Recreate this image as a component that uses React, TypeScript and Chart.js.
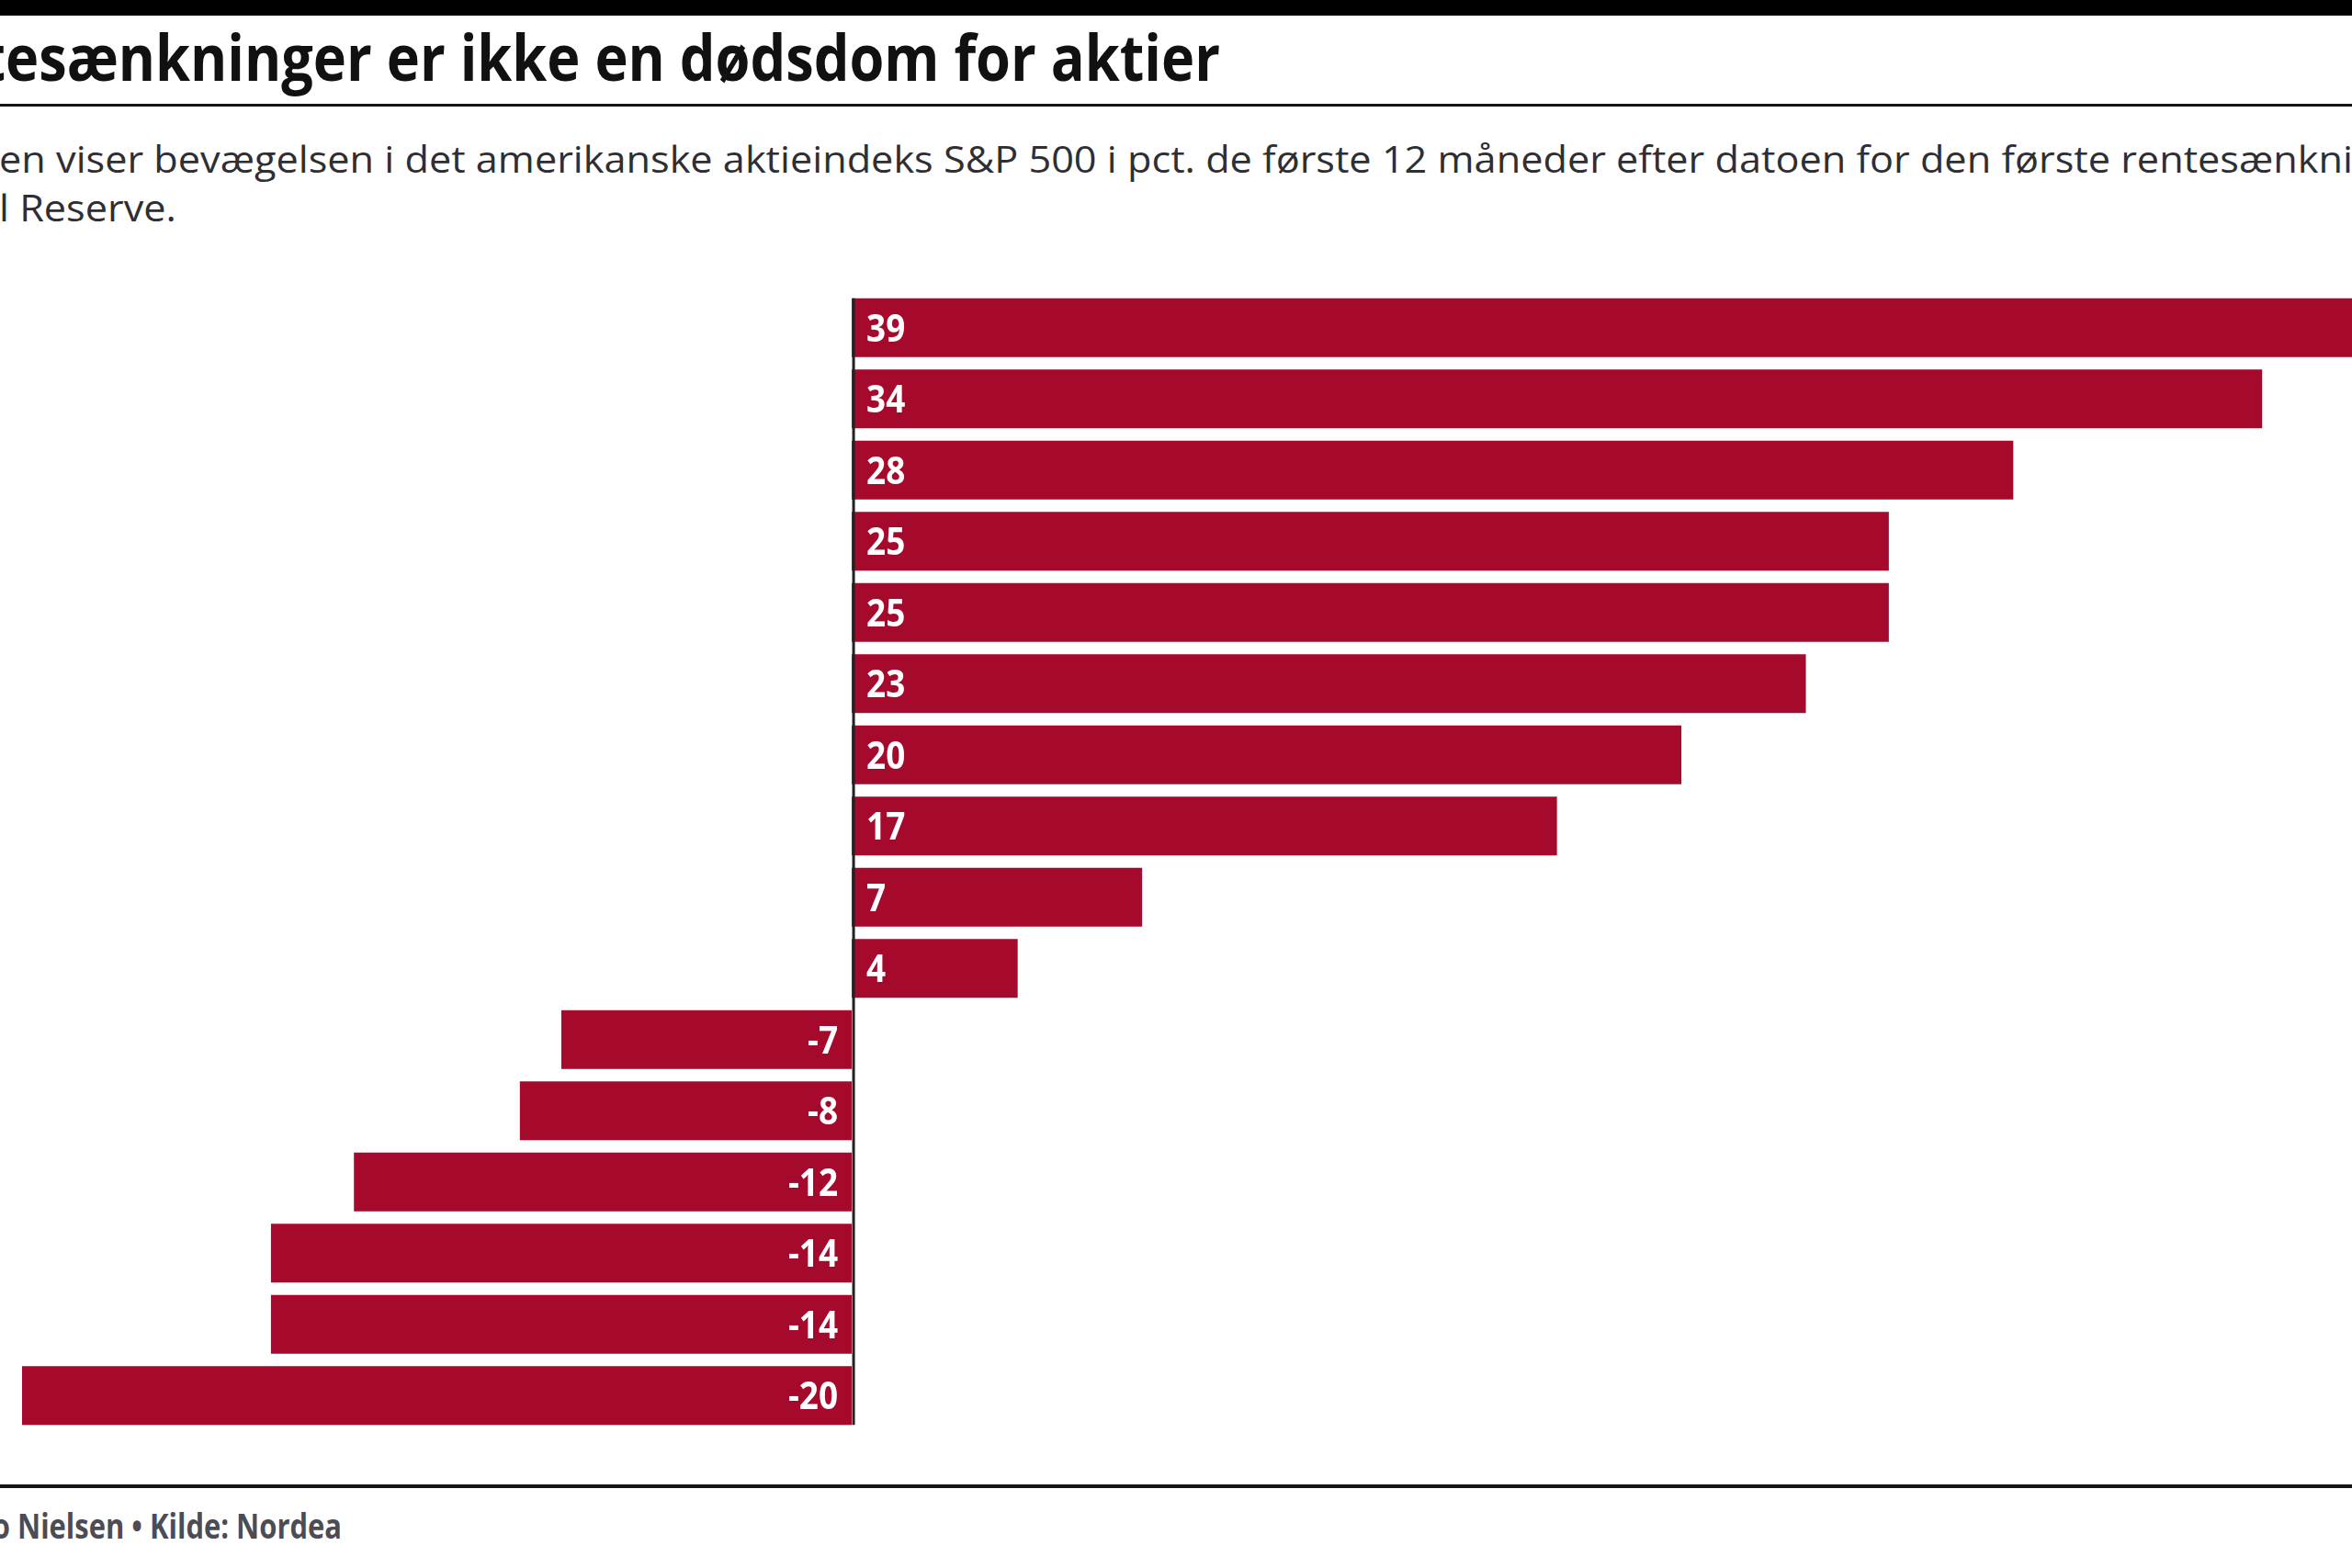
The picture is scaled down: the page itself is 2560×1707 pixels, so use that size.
import React, { useEffect, useRef, useState } from 'react';
import { Chart, registerables } from 'chart.js';

Chart.register(...registerables);

// ---------- data ----------
const categories = ['1', '2', '3', '4', '5', '6', '7', '8', '9', '10', '11', '12', '13', '14', '15', '16'];
const values = [39, 34, 28, 25, 25, 23, 20, 17, 7, 4, -7, -8, -12, -14, -14, -20];
const axisMin = -20;
const axisMax = 39;

// ---------- texts ----------
const TITLE_PREFIX = 'Rent';
const TITLE_TEXT = 'esænkninger er ikke en dødsdom for aktier';
const SUB1_PREFIX = 'Grafikk';
const SUB1_TEXT =
  'en viser bevægelsen i det amerikanske aktieindeks S&P 500 i pct. de første 12 måneder efter datoen for den første rentesænkning fra den amerikanske centralbank,';
const SUB1_FIT = 'en viser bevægelsen i det amerikanske aktieindeks S&P 500 i pct. de første 12 måneder efter datoen for den første rentesænkn';
const SUB2_PREFIX = 'Federa';
const SUB2_TEXT = 'l Reserve.';
const FOOT_PREFIX = 'Grafik: Bo ';
const FOOT_TEXT = 'Nielsen • Kilde: Nordea';

// ---------- style ----------
const BAR_COLOR = '#a50a2c';
const FONT = "'Open Sans', 'Noto Sans', sans-serif";

function measure(text: string, font: string): number {
  const c = document.createElement('canvas');
  const ctx = c.getContext('2d');
  if (!ctx) return 1;
  ctx.font = font;
  return ctx.measureText(text).width || 1;
}

type LineProps = {
  top: number;
  left: number;
  size: number;
  weight: number;
  color: string;
  scale: number;
  prefix: string;
  text: string;
};

function Line({ top, left, size, weight, color, scale, prefix, text }: LineProps) {
  return (
    <div
      style={{
        position: 'absolute',
        top,
        left,
        whiteSpace: 'pre',
        fontFamily: FONT,
        fontWeight: weight,
        fontSize: size,
        lineHeight: `${size}px`,
        color,
        transform: `scaleX(${scale})`,
        transformOrigin: '0 0',
      }}
    >
      <span style={{ position: 'absolute', right: '100%', top: 0 }}>{prefix}</span>
      {text}
    </div>
  );
}

const zeroLinePlugin = {
  id: 'zeroLine',
  afterDatasetsDraw(chart: any) {
    const meta = chart.getDatasetMeta(0);
    const els = meta.data;
    if (!els.length) return;
    const f = els[0].getProps(['y', 'height'], true);
    const l = els[els.length - 1].getProps(['y', 'height'], true);
    const top = f.y - f.height / 2;
    const bottom = l.y + l.height / 2;
    const x = chart.scales.x.getPixelForValue(0) + 2;
    const ctx = chart.ctx;
    ctx.save();
    ctx.strokeStyle = '#222222';
    ctx.lineWidth = 3;
    ctx.beginPath();
    ctx.moveTo(x, top);
    ctx.lineTo(x, bottom);
    ctx.stroke();
    ctx.restore();
  },
};

const labelPlugin = {
  id: 'valueLabels',
  afterDatasetsDraw(chart: any) {
    const meta = chart.getDatasetMeta(0);
    const ctx = chart.ctx;
    const zero = chart.scales.x.getPixelForValue(0);
    const fs = 42;
    const sx = 0.88;
    ctx.save();
    ctx.fillStyle = '#ffffff';
    ctx.font = `700 ${fs}px ${FONT}`;
    ctx.textBaseline = 'alphabetic';
    meta.data.forEach((el: any, i: number) => {
      const v = values[i];
      const { y } = el.getProps(['y'], true);
      const by = y + fs * 0.357;
      const x = v >= 0 ? zero + 16 : zero - 15;
      ctx.save();
      ctx.translate(x, by);
      ctx.scale(sx, 1);
      ctx.textAlign = v >= 0 ? 'left' : 'right';
      ctx.fillText(String(v), 0, 0);
      ctx.restore();
    });
    ctx.restore();
  },
};

export default function App() {
  const canvasRef = useRef<HTMLCanvasElement>(null);
  const [, setTick] = useState(0);

  useEffect(() => {
    const d: any = document;
    if (d.fonts && d.fonts.ready) d.fonts.ready.then(() => setTick((t) => t + 1));
  }, []);

  useEffect(() => {
    if (!canvasRef.current) return;
    const chart = new Chart(canvasRef.current, {
      type: 'bar',
      data: {
        labels: categories,
        datasets: [
          {
            data: values,
            backgroundColor: BAR_COLOR,
            borderWidth: 0,
            barPercentage: 0.826,
            categoryPercentage: 1,
          },
        ],
      },
      options: {
        indexAxis: 'y',
        responsive: false,
        maintainAspectRatio: false,
        animation: false,
        events: [],
        layout: { padding: 0 },
        plugins: {
          legend: { display: false },
          tooltip: { enabled: false },
          title: { display: false },
        },
        scales: {
          x: { type: 'linear', min: axisMin, max: axisMax, display: false },
          y: { type: 'category', display: false },
        },
      },
      plugins: [zeroLinePlugin, labelPlugin],
    } as any);
    return () => chart.destroy();
  }, []);

  const titleScale = 1322 / measure(TITLE_TEXT, `700 70px ${FONT}`);
  const subScale = 2551 / measure(SUB1_FIT, `400 40px ${FONT}`);
  const footScale = 353 / measure(FOOT_TEXT, `700 38px ${FONT}`);

  return (
    <div
      style={{
        position: 'fixed',
        left: 0,
        top: 0,
        width: 2560,
        height: 1707,
        overflow: 'hidden',
        background: '#ffffff',
      }}
    >
      <div style={{ position: 'absolute', left: 0, top: 0, width: 2560, height: 17, background: '#000' }} />
      <Line top={25.9} left={6} size={70} weight={700} color="#111111" scale={titleScale} prefix={TITLE_PREFIX} text={TITLE_TEXT} />
      <div style={{ position: 'absolute', left: 0, top: 113, width: 2560, height: 3, background: '#151515' }} />
      <Line top={152.5} left={-1} size={40} weight={400} color="#2e2e33" scale={subScale} prefix={SUB1_PREFIX} text={SUB1_TEXT} />
      <Line top={206.2} left={-1} size={40} weight={400} color="#2e2e33" scale={subScale} prefix={SUB2_PREFIX} text={SUB2_TEXT} />
      <canvas
        ref={canvasRef}
        width={2664}
        height={1240}
        style={{ position: 'absolute', left: 24, top: 318, width: 2664, height: 1240 }}
      />
      <div style={{ position: 'absolute', left: 0, top: 1616, width: 2560, height: 4, background: '#151515' }} />
      <Line top={1641.3} left={19} size={38} weight={700} color="#4c4c54" scale={footScale} prefix={FOOT_PREFIX} text={FOOT_TEXT} />
    </div>
  );
}
